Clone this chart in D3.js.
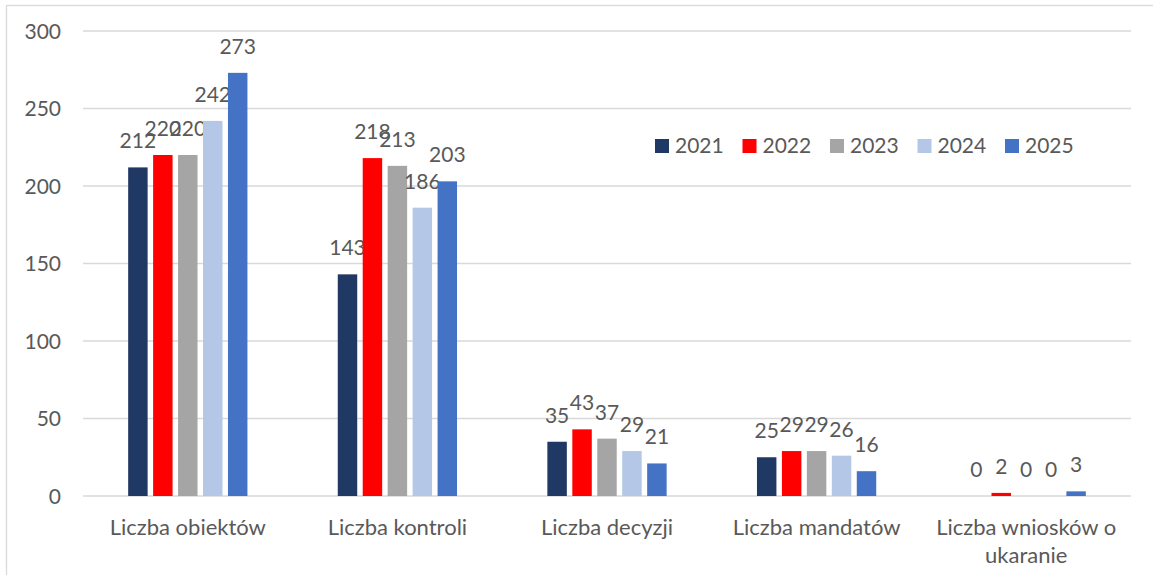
<!DOCTYPE html>
<html>
<head>
<meta charset="utf-8">
<script src="https://cdn.jsdelivr.net/npm/d3@7"></script>
<style>
  body { margin: 0; background: #fff; }
  svg text { font-family: Lato, "Open Sans", sans-serif; fill: #595959; }
</style>
</head>
<body>
<div class="visContainer"></div>
<script>
// Chart data.
const categories = ['Liczba obiektów', 'Liczba kontroli', 'Liczba decyzji', 'Liczba mandatów', 'Liczba wniosków o ukaranie'];
const years = ['2021', '2022', '2023', '2024', '2025'];
const values = {
    '2021': [212, 143, 35, 25, 0],
    '2022': [220, 218, 43, 29, 2],
    '2023': [220, 213, 37, 29, 0],
    '2024': [242, 186, 29, 26, 0],
    '2025': [273, 203, 21, 16, 3]
};
const colors = ['#203864', '#ff0000', '#a5a5a5', '#b4c7e7', '#4472c4'];
const yTicks = [0, 50, 100, 150, 200, 250, 300];

// SVG constants.
const width = 1153;
const height = 575;
const plot = { left: 83, right: 1131, top: 31, bottom: 496 };

const svg = d3.select('.visContainer')
              .append('svg')
              .attr('width', width)
              .attr('height', height);

// Chart border.
svg.append('rect')
   .attr('x', 6.5)
   .attr('y', 5.5)
   .attr('width', width + 10)
   .attr('height', height + 10)
   .attr('fill', 'none')
   .attr('stroke', '#d9d9d9')
   .attr('stroke-width', 1.3);

// Scales.
const yScale = d3.scaleLinear().domain([0, 300]).range([plot.bottom, plot.top]);
const x0 = d3.scaleBand().domain(categories).range([plot.left, plot.right]);
const x1 = d3.scaleBand().domain(years).range([0, x0.bandwidth()])
             .paddingInner(0.22).paddingOuter(1.81);

// Gridlines.
svg.append('g')
   .selectAll('line')
   .data(yTicks)
   .enter()
   .append('line')
   .attr('x1', plot.left)
   .attr('x2', plot.right)
   .attr('y1', d => yScale(d))
   .attr('y2', d => yScale(d))
   .attr('stroke', '#d9d9d9')
   .attr('stroke-width', 1.3);

// Y axis labels.
const yAxis = d3.axisLeft(yScale).tickValues(yTicks).tickSize(0).tickPadding(22);
const yg = svg.append('g')
   .attr('transform', `translate(${plot.left},0)`)
   .call(yAxis);
yg.select('.domain').remove();
yg.selectAll('text').attr('font-size', '21px').attr('dy', '0.35em');

// Bars and data labels.
years.forEach((yr, i) => {
    const g = svg.append('g');
    g.selectAll('rect')
     .data(values[yr])
     .enter()
     .append('rect')
     .attr('x', (d, j) => x0(categories[j]) + x1(yr))
     .attr('y', d => yScale(d))
     .attr('width', x1.bandwidth())
     .attr('height', d => plot.bottom - yScale(d))
     .attr('fill', colors[i]);
    g.selectAll('text')
     .data(values[yr])
     .enter()
     .append('text')
     .attr('x', (d, j) => x0(categories[j]) + x1(yr) + x1.bandwidth() / 2)
     .attr('y', d => yScale(d) - 19)
     .attr('text-anchor', 'middle')
     .attr('font-size', '21px')
     .text(d => d);
});

// X axis labels (wrapped like the original).
const xLines = {
    'Liczba wniosków o ukaranie': ['Liczba wniosków o', 'ukaranie']
};
categories.forEach(c => {
    const lines = xLines[c] || [c];
    const t = svg.append('text')
       .attr('x', x0(c) + x0.bandwidth() / 2)
       .attr('y', 535)
       .attr('text-anchor', 'middle')
       .attr('font-size', '22px');
    lines.forEach((l, k) => {
        t.append('tspan')
         .attr('x', x0(c) + x0.bandwidth() / 2)
         .attr('dy', k === 0 ? 0 : 28)
         .text(l);
    });
});

// Legend.
const legend = svg.append('g').attr('transform', 'translate(655,146)');
years.forEach((yr, i) => {
    const item = legend.append('g').attr('transform', `translate(${i * 87.5},0)`);
    item.append('rect')
        .attr('x', 0)
        .attr('y', -7)
        .attr('width', 14)
        .attr('height', 14)
        .attr('fill', colors[i]);
    item.append('text')
        .attr('x', 20)
        .attr('y', 0)
        .attr('dy', '0.35em')
        .attr('font-size', '21px')
        .text(yr);
});
</script>
</body>
</html>
